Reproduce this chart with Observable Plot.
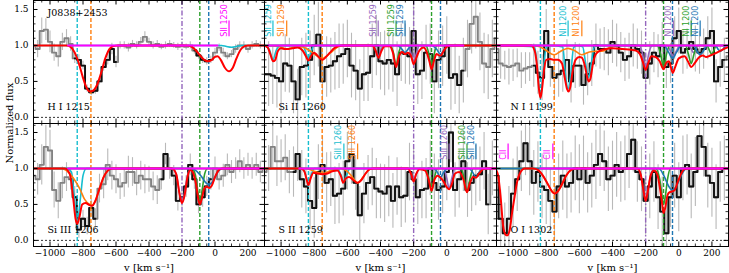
<!DOCTYPE html>
<html><head><meta charset="utf-8">
<script src="https://cdn.jsdelivr.net/npm/d3@7"></script>
<script src="https://cdn.jsdelivr.net/npm/@observablehq/plot@0.6"></script>
<style>
body{margin:0;background:#fff}
#fig{position:relative;width:729px;height:273px;overflow:hidden;font-family:"DejaVu Serif";background:#fff}
#fig svg{position:absolute}
#ylab{position:absolute;left:9px;top:123px;transform:translate(-50%,-50%) rotate(-90deg);font-size:10px;white-space:nowrap}
</style>
</head><body><div id="fig"><div id="ylab">Normalized flux</div></div>
<script>
// velocity grid (bin centres, km/s)
const V = [-1100,-1075,-1050,-1025,-1000,-975,-950,-925,-900,-875,-850,-825,-800,-775,-750,-725,-700,-675,-650,-625,-600,-575,-550,-525,-500,-475,-450,-425,-400,-375,-350,-325,-300,-275,-250,-225,-200,-175,-150,-125,-100,-75,-50,-25,0,25,50,75,100,125,150,175,200,225,250,275,300];

// H I 1215
const F1 = [1.0,0.95,1.2,1.22,1.05,0.9,0.85,1.05,1.1,1.02, 0.82,0.8,0.72,0.4,0.35,0.37,0.5,0.7,0.8,0.95, 0.77,1.0,1.0,0.97,1.02,1.0,1.05,1.12,1.05,1.0, 1.02,0.98,1.0,1.02,1.0,0.98,1.0,0.98,1.0,0.93, 0.86,0.8,0.78,0.8,0.9,0.97,0.9,0.85,0.88,0.95, 1.0,1.0,0.95,1.0,1.02,1.0,1.0];
const E1 = [0.15,0.12,0.18,0.15,0.15,0.12,0.15,0.12,0.12,0.1, 0.07,0.07,0.06,0.05,0.05,0.05,0.05,0.06,0.07,0.08, 0.08,0.05,0.05,0.06,0.05,0.05,0.06,0.07,0.05,0.05, 0.05,0.04,0.05,0.05,0.04,0.05,0.05,0.04,0.05,0.05, 0.05,0.05,0.05,0.05,0.06,0.05,0.06,0.05,0.05,0.06, 0.05,0.05,0.06,0.05,0.05,0.05,0.05];
// Si II 1260
const F2 = [0.6,0.6,0.58,0.55,0.5,0.75,0.72,0.5,0.25,0.7, 0.72,0.8,1.0,1.15,0.5,0.7,0.72,0.78,0.85,0.88, 0.95,0.72,0.65,0.4,0.6,0.62,0.85,1.0,0.78,0.75, 0.8,0.75,0.6,0.9,0.88,0.85,1.2,0.6,0.65,0.9, 0.88,0.5,0.8,0.85,1.0,0.55,0.6,0.45,0.65,0.95, 1.3,1.4,1.05,0.75,0.7,0.95,1.1];
const E2 = [0.4,0.45,0.4,0.42,0.45,0.4,0.38,0.45,0.42,0.4, 0.45,0.4,0.42,0.45,0.4,0.42,0.38,0.4,0.45,0.42, 0.4,0.45,0.42,0.4,0.38,0.4,0.45,0.42,0.4,0.45, 0.42,0.4,0.45,0.4,0.42,0.4,0.45,0.42,0.4,0.38, 0.42,0.45,0.4,0.42,0.4,0.45,0.42,0.4,0.45,0.4, 0.42,0.45,0.4,0.42,0.45,0.4,0.42];
// N I 1199
const F3 = [0.95,0.75,0.72,0.7,0.72,0.75,0.65,0.68,0.7,0.72, 0.62,0.55,1.2,0.7,0.55,0.6,0.65,0.8,0.5,0.72, 0.72,0.45,0.6,0.75,1.0,0.95,0.95,0.9,1.05,1.0, 0.9,0.8,0.85,1.0,0.95,0.9,0.55,0.75,0.9,0.85, 1.0,0.7,0.75,1.1,1.2,0.9,0.95,1.05,0.95,0.9, 0.95,1.1,1.2,0.5,0.7,0.8,0.85];
const E3 = [0.2,0.22,0.2,0.25,0.22,0.2,0.25,0.22,0.2,0.3, 0.3,0.32,0.3,0.28,0.3,0.32,0.3,0.28,0.3,0.32, 0.3,0.28,0.3,0.32,0.3,0.28,0.3,0.32,0.3,0.3, 0.28,0.3,0.32,0.3,0.28,0.3,0.32,0.3,0.28,0.3, 0.32,0.3,0.28,0.3,0.32,0.3,0.28,0.3,0.32,0.3, 0.28,0.3,0.32,0.3,0.28,0.3,0.3];
// Si III 1206
const F4 = [0.9,0.85,1.05,1.3,1.25,0.7,0.55,0.8,0.88,0.85, 0.6,0.15,0.3,0.2,0.45,0.3,0.72,0.78,1.05,0.9, 0.85,0.75,0.8,0.95,0.95,0.8,0.9,0.85,0.85,0.75, 0.7,0.85,1.2,1.0,0.9,0.55,0.6,0.75,1.05,0.85, 0.5,0.6,0.75,0.85,1.0,0.85,0.9,1.05,0.95,1.0, 1.1,1.0,1.05,1.0,1.05,0.95,1.0];
const E4 = [0.25,0.22,0.28,0.3,0.28,0.25,0.25,0.22,0.2,0.15, 0.15,0.12,0.12,0.12,0.12,0.14,0.2,0.2,0.22,0.2, 0.2,0.18,0.2,0.22,0.2,0.18,0.2,0.2,0.18,0.2, 0.2,0.15,0.15,0.15,0.14,0.14,0.14,0.15,0.15,0.14, 0.13,0.14,0.14,0.15,0.16,0.15,0.16,0.15,0.16,0.15, 0.16,0.15,0.16,0.15,0.16,0.15,0.15];
// S II 1259
const F5 = [0.95,1.0,1.3,1.1,1.1,1.15,0.95,0.95,1.2,0.85, 0.75,0.55,0.45,0.95,1.05,0.8,0.85,0.62,0.65,0.72, 1.1,1.2,0.8,0.35,0.65,0.8,0.88,0.72,0.68,0.65, 0.75,0.55,0.75,0.6,0.62,0.95,0.85,0.6,0.7,0.72, 1.0,0.8,0.7,0.75,0.95,1.5,0.7,0.85,1.1,0.7, 0.8,0.9,0.92,1.1,0.5,1.0,1.0];
const E5 = [0.3,0.32,0.3,0.35,0.3,0.32,0.3,0.35,0.38,0.4, 0.38,0.4,0.42,0.38,0.4,0.42,0.38,0.4,0.42,0.38, 0.4,0.42,0.38,0.4,0.42,0.38,0.4,0.42,0.38,0.4, 0.42,0.38,0.4,0.42,0.38,0.4,0.42,0.38,0.4,0.42, 0.38,0.4,0.42,0.38,0.4,0.42,0.38,0.4,0.42,0.38, 0.4,0.42,0.38,0.4,0.42,0.38,0.4];
// O I 1302
const F6 = [0.9,0.3,0.1,0.3,0.65,0.85,1.1,1.35,1.1,0.8, 0.95,0.75,0.7,0.55,0.4,0.75,0.9,0.75,0.8,1.0, 0.85,1.0,0.8,0.9,1.05,1.2,1.1,0.85,0.9,1.05, 0.95,1.0,1.2,1.4,0.95,0.85,0.55,0.75,0.95,0.6, 0.4,0.1,0.6,0.9,0.6,1.0,1.05,0.75,0.95,1.45, 1.3,0.9,0.8,0.6,0.95,1.0,1.0];
const E6 = [0.45,0.4,0.42,0.45,0.48,0.45,0.42,0.45,0.48,0.45, 0.42,0.45,0.48,0.45,0.42,0.45,0.48,0.45,0.42,0.45, 0.48,0.45,0.42,0.45,0.48,0.45,0.42,0.45,0.48,0.45, 0.42,0.45,0.48,0.45,0.42,0.45,0.48,0.45,0.42,0.45, 0.48,0.45,0.42,0.45,0.48,0.45,0.42,0.45,0.48,0.45, 0.42,0.45,0.48,0.45,0.42,0.45,0.45];

// fitted (black) velocity windows
const B1 = [[-850,-600],[-125,-25]];
const B2 = [[-1100,100]];
const B3 = [[-875,275]];
const B4 = [[-875,-725],[-325,-25]];
const B5 = [[-925,250]];
const B6 = [[-1100,300]];

// component velocities and colours
const compV = [-835,-752,-200,-92,-38];
const compC = ["#17becf","#ff7f0e","#9467bd","#2ca02c","#1f77b4"];
const compDash = ["4,2","4,2","5,2,1.5,2","4,2","4,2"];

// model curves [v, flux]
const R1 = [[-1100,1],[-900,1],[-875,0.98],[-850,0.9],[-825,0.75],[-800,0.55],[-780,0.42],[-760,0.36],[-740,0.37],[-715,0.45],[-690,0.62],[-665,0.82],[-640,0.95],[-615,0.99],[-590,1],[-170,1],[-140,0.98],[-115,0.93],[-90,0.86],[-65,0.8],[-40,0.78],[-20,0.8],[0,0.84],[15,0.85],[35,0.8],[60,0.69],[85,0.64],[108,0.69],[130,0.82],[155,0.94],[180,0.99],[200,1],[300,1]];
const C1c = [[-1100,1],[40,1],[70,0.985],[100,0.975],[130,0.985],[160,1],[300,1]];
const M1 = [[-890,1],[15,1]];

const R2 = [[-1100,1],[-1080,0.97],[-1065,0.88],[-1048,0.78],[-1035,0.8],[-1020,0.92],[-1000,0.96],[-975,0.95],[-955,0.95],[-930,0.96],[-900,0.97],[-870,0.93],[-850,0.85],[-835,0.79],[-820,0.85],[-800,0.9],[-785,0.87],[-765,0.82],[-750,0.8],[-730,0.84],[-705,0.9],[-680,0.96],[-655,0.99],[-630,1],[-450,1],[-430,0.93],[-412,0.83],[-395,0.92],[-375,0.99],[-345,0.99],[-325,0.9],[-306,0.7],[-288,0.85],[-270,0.91],[-252,0.88],[-235,0.9],[-215,0.85],[-200,0.74],[-185,0.82],[-165,0.93],[-140,0.97],[-120,0.9],[-105,0.78],[-92,0.67],[-78,0.78],[-62,0.88],[-45,0.86],[-35,0.86],[-25,0.9],[-5,0.97],[15,1],[300,1]];
const C2c = [[-1100,1],[-1070,0.94],[-1049,0.8],[-1028,0.94],[-1000,1],[-870,1],[-850,0.9],[-835,0.8],[-820,0.9],[-800,1],[300,1]];
const C2o = [[-1100,1],[-1020,0.99],[-966,0.95],[-910,0.99],[-870,0.98],[-810,0.9],[-752,0.82],[-700,0.9],[-650,0.99],[-620,1],[300,1]];
const C2p = [[-1100,1],[-450,1],[-430,0.94],[-414,0.84],[-398,0.94],[-380,1],[-235,1],[-215,0.88],[-200,0.75],[-185,0.88],[-165,1],[300,1]];
const C2g = [[-1100,1],[-340,1],[-322,0.9],[-306,0.72],[-290,0.9],[-272,1],[-125,1],[-108,0.88],[-92,0.68],[-76,0.88],[-60,1],[300,1]];
const C2b = [[-1100,1],[-300,1],[-275,0.96],[-252,0.9],[-230,0.96],[-205,1],[-90,1],[-62,0.95],[-38,0.88],[-14,0.95],[12,1],[300,1]];
const M2 = [[-1080,1],[100,1]];

const R3 = [[-1100,1],[-890,1],[-870,0.93],[-855,0.7],[-845,0.42],[-835,0.27],[-825,0.4],[-812,0.68],[-800,0.8],[-775,0.81],[-752,0.8],[-730,0.8],[-705,0.75],[-688,0.55],[-675,0.4],[-665,0.36],[-655,0.42],[-640,0.65],[-623,0.8],[-600,0.84],[-585,0.83],[-565,0.7],[-552,0.55],[-543,0.5],[-532,0.55],[-518,0.75],[-500,0.88],[-473,0.93],[-440,0.95],[-400,0.96],[-340,0.95],[-260,0.93],[-235,0.88],[-218,0.78],[-200,0.66],[-185,0.75],[-165,0.85],[-140,0.84],[-115,0.78],[-92,0.67],[-75,0.76],[-60,0.78],[-48,0.7],[-36,0.62],[-22,0.7],[0,0.82],[35,0.85],[55,0.78],[75,0.7],[95,0.75],[120,0.83],[145,0.86],[165,0.84],[190,0.86],[230,0.9],[270,0.95],[300,0.98]];
const C3c = [[-1100,1],[-870,0.98],[-850,0.6],[-835,0.28],[-820,0.6],[-800,0.97],[-780,1],[-700,0.98],[-685,0.62],[-668,0.4],[-651,0.62],[-635,0.97],[-615,1],[-580,0.98],[-562,0.75],[-545,0.55],[-528,0.75],[-510,0.98],[-490,1],[300,1]];
const C3o = [[-1100,1],[-850,0.99],[-800,0.93],[-752,0.87],[-705,0.93],[-668,0.96],[-630,0.93],[-585,0.87],[-540,0.91],[-500,0.92],[-462,0.92],[-420,0.97],[-380,1],[300,1]];
const C3p = [[-1100,1],[-240,1],[-220,0.9],[-200,0.68],[-180,0.9],[-160,1],[-70,1],[-50,0.92],[-33,0.85],[-15,0.92],[5,1],[60,1],[75,0.95],[90,0.9],[105,0.95],[120,1],[300,1]];
const C3g = [[-1100,1],[-130,1],[-110,0.88],[-92,0.7],[-74,0.88],[-55,1],[40,1],[58,0.88],[75,0.75],[92,0.88],[110,1],[170,1],[185,0.93],[198,0.88],[212,0.93],[225,1],[300,1]];
const C3b = [[-1100,1],[-90,1],[-60,0.9],[-38,0.82],[-15,0.9],[15,1],[90,1],[110,0.92],[129,0.87],[148,0.92],[170,1],[220,1],[240,0.94],[252,0.92],[265,0.94],[285,1],[300,1]];
const M3 = [[-1100,1],[300,1]];

const R4 = [[-1100,1],[-910,1],[-880,0.92],[-860,0.6],[-845,0.3],[-835,0.23],[-822,0.32],[-805,0.5],[-785,0.52],[-760,0.49],[-745,0.48],[-725,0.55],[-700,0.72],[-675,0.88],[-650,0.97],[-625,1],[-260,1],[-235,0.92],[-215,0.65],[-200,0.52],[-185,0.62],[-165,0.9],[-150,0.98],[-135,0.95],[-115,0.78],[-100,0.56],[-92,0.5],[-80,0.58],[-65,0.72],[-50,0.75],[-35,0.73],[-20,0.76],[0,0.88],[20,0.97],[40,1],[300,1]];
const C4c = [[-1100,1],[-900,1],[-870,0.95],[-855,0.65],[-835,0.25],[-815,0.6],[-800,0.9],[-780,1],[300,1]];
const C4o = [[-1100,1],[-930,1],[-900,0.97],[-860,0.87],[-820,0.72],[-790,0.57],[-760,0.5],[-745,0.49],[-725,0.55],[-700,0.72],[-675,0.88],[-650,0.97],[-625,1],[300,1]];
const C4p = [[-1100,1],[-260,1],[-235,0.92],[-215,0.65],[-200,0.52],[-185,0.65],[-165,0.92],[-140,1],[300,1]];
const C4g = [[-1100,1],[-140,1],[-120,0.92],[-105,0.7],[-92,0.52],[-78,0.7],[-62,0.93],[-45,1],[300,1]];
const C4b = [[-1100,1],[-140,1],[-110,0.96],[-80,0.88],[-55,0.8],[-38,0.78],[-20,0.8],[0,0.88],[20,0.96],[45,1],[300,1]];
const M4 = [[-890,1],[300,1]];

const R5 = [[-1100,1],[-880,1],[-860,0.96],[-845,0.84],[-835,0.77],[-822,0.86],[-805,0.94],[-780,0.93],[-752,0.92],[-720,0.93],[-690,0.96],[-660,0.97],[-640,0.9],[-625,0.8],[-610,0.86],[-590,0.88],[-565,0.84],[-540,0.8],[-515,0.84],[-490,0.93],[-465,0.99],[-440,1],[-235,1],[-215,0.92],[-200,0.82],[-185,0.92],[-165,0.99],[-130,0.97],[-110,0.85],[-92,0.69],[-75,0.84],[-55,0.9],[-38,0.87],[-20,0.82],[0,0.74],[14,0.71],[30,0.78],[50,0.93],[75,0.95],[100,0.85],[122,0.67],[140,0.8],[160,0.88],[176,0.87],[195,0.93],[220,0.99],[240,1],[300,1]];
const C5c = [[-1100,1],[-870,1],[-850,0.9],[-835,0.78],[-820,0.9],[-800,1],[-660,1],[-640,0.92],[-621,0.82],[-602,0.92],[-585,1],[300,1]];
const C5o = [[-1100,1],[-850,1],[-800,0.96],[-752,0.93],[-700,0.97],[-640,1],[-600,0.96],[-570,0.88],[-538,0.8],[-505,0.88],[-475,0.97],[-450,1],[300,1]];
const C5p = [[-1100,1],[-235,1],[-215,0.92],[-200,0.82],[-185,0.92],[-165,1],[-20,1],[0,0.86],[14,0.72],[30,0.86],[50,1],[300,1]];
const C5g = [[-1100,1],[-130,1],[-110,0.88],[-92,0.69],[-74,0.88],[-55,1],[85,1],[105,0.86],[122,0.67],[140,0.86],[160,1],[300,1]];
const C5b = [[-1100,1],[-80,1],[-58,0.95],[-38,0.88],[-18,0.95],[5,1],[135,1],[155,0.95],[176,0.88],[196,0.95],[218,1],[300,1]];
const M5 = [[-890,1],[300,1]];

const R6 = [[-1100,0.97],[-1090,0.9],[-1075,0.6],[-1060,0.2],[-1045,0.08],[-1035,0.07],[-1020,0.15],[-1005,0.4],[-990,0.62],[-975,0.82],[-955,0.95],[-930,1],[-880,1],[-850,0.98],[-820,0.9],[-790,0.78],[-765,0.68],[-750,0.65],[-730,0.68],[-705,0.78],[-680,0.9],[-650,0.98],[-620,1],[-250,1],[-230,0.92],[-215,0.72],[-200,0.55],[-187,0.68],[-170,0.9],[-150,0.97],[-130,0.92],[-112,0.7],[-100,0.5],[-92,0.38],[-82,0.45],[-68,0.63],[-55,0.67],[-40,0.68],[-25,0.7],[-5,0.82],[15,0.93],[35,0.99],[60,1],[300,1]];
const C6c = [[-1100,1],[300,1]];
const C6o = [[-1100,1],[-880,1],[-850,0.98],[-820,0.9],[-790,0.78],[-765,0.68],[-750,0.65],[-730,0.68],[-705,0.78],[-680,0.9],[-650,0.98],[-620,1],[300,1]];
const C6p = [[-1100,1],[-250,1],[-230,0.92],[-215,0.72],[-200,0.55],[-187,0.68],[-170,0.9],[-150,1],[300,1]];
const C6g = [[-1100,1],[-140,1],[-115,0.85],[-100,0.6],[-92,0.5],[-82,0.6],[-68,0.85],[-50,1],[300,1]];
const C6b = [[-1100,1],[-120,1],[-90,0.9],[-60,0.75],[-38,0.7],[-15,0.75],[10,0.88],[35,0.98],[55,1],[300,1]];
const M6 = [[-835,1],[300,1]];

// blend-line labels
const L1v = [85], L1t = ["SII 1250"], L1c = ["#ff00ff"];
const L2v = [-1049,-966,-414,-306,-252], L2t = "SII 1259";
const L3v = [-668,-585,-33,75,129], L3t = "NI 1200";
const L5v = [-621,-538,14,122,176], L5t = "SiII 1260";
const L6v = [-1030,-760], L6t = ["CII","CII"], L6c = ["#ff00ff","#ff00ff"];

const panelNames = ["H I 1215","Si II 1260","N I 1199","Si III 1206","S II 1259","O I 1302"];
const qsoName = "J0838+2453";
const xMajor = [-1000,-800,-600,-400,-200,0,200];
const yMajor = [0,0.5,1.0,1.5];
const xLabel = "v [km s\u207B\u00B9]";

// ---- layout ----
const X0 = -1100, X1 = 300, Y0 = -0.085, Y1 = 1.625;
const colX = [33,264,496], colW = [231,232,232];
const rowY = [0,123], H = 123;
const ml = 40, mr = 12, mt = 12, mb = 30;

const fmtX = d => d < 0 ? "\u2212" + Math.abs(d) : String(d);
const xMinor = d3.range(-1100, 301, 50).filter(d => !xMajor.includes(d));
const yMinor = d3.range(0, 17).map(i => i / 10).filter(d => !yMajor.some(m => Math.abs(m - d) < 1e-9));

function lbls(vs, t, colors) {
  return vs.map((v, i) => ({v, t: Array.isArray(t) ? t[i] : t, c: colors[i]}));
}

const panels = [
  {name: panelNames[0], F: F1, E: E1, B: B1, R: R1, comps: [[C1c, compC[0]]], M: M1, L: lbls(L1v, L1t, L1c)},
  {name: panelNames[1], F: F2, E: E2, B: B2, R: R2, comps: [[C2c,compC[0]],[C2o,compC[1]],[C2p,compC[2]],[C2g,compC[3]],[C2b,compC[4]]], M: M2, L: lbls(L2v, L2t, compC)},
  {name: panelNames[2], F: F3, E: E3, B: B3, R: R3, comps: [[C3c,compC[0]],[C3o,compC[1]],[C3p,compC[2]],[C3g,compC[3]],[C3b,compC[4]]], M: M3, L: lbls(L3v, L3t, compC)},
  {name: panelNames[3], F: F4, E: E4, B: B4, R: R4, comps: [[C4c,compC[0]],[C4o,compC[1]],[C4p,compC[2]],[C4g,compC[3]],[C4b,compC[4]]], M: M4, L: []},
  {name: panelNames[4], F: F5, E: E5, B: B5, R: R5, comps: [[C5c,compC[0]],[C5o,compC[1]],[C5p,compC[2]],[C5g,compC[3]],[C5b,compC[4]]], M: M5, L: lbls(L5v, L5t, compC)},
  {name: panelNames[5], F: F6, E: E6, B: B6, R: R6, comps: [[C6c,compC[0]],[C6o,compC[1]],[C6p,compC[2]],[C6g,compC[3]],[C6b,compC[4]]], M: M6, L: lbls(L6v, L6t, L6c)}
];

const fig = document.getElementById("fig");

panels.forEach((p, k) => {
  const col = k % 3, row = Math.floor(k / 3);
  const W = colW[col];
  const pxX = W / (X1 - X0), pxY = H / (Y1 - Y0);
  const data = V.map((v, i) => ({v, f: p.F[i], e: p.E[i], blk: p.B.some(([a, b]) => v >= a && v <= b)}));
  const comp = compV.map((v, i) => ({v, c: compC[i], d: compDash[i]}));
  const tx = (len) => len / pxX, ty = (len) => len / pxY;
  const marks = [
    Plot.ruleX(data, {x: "v", y1: d => d.f - d.e, y2: d => d.f + d.e, stroke: "#b9b9b9", strokeWidth: 1.1, clip: true}),
    Plot.line(data, {x: "v", y: "f", curve: "step", stroke: "#828282", strokeWidth: 1.9, clip: true}),
    Plot.line(data, {x: "v", y: d => d.blk ? d.f : NaN, curve: "step", stroke: "#111", strokeWidth: 1.9, clip: true}),
    Plot.ruleY([0], {stroke: "#000", strokeWidth: 0.8, strokeDasharray: "2,2"}),
    ...comp.map(c => Plot.ruleX([c.v], {stroke: c.c, strokeWidth: 1.4, strokeDasharray: c.d})),
    ...p.comps.map(([arr, c]) => Plot.line(arr, {x: d => d[0], y: d => d[1], curve: "monotone-x", stroke: c, strokeWidth: 1.6, clip: true})),
    Plot.line(p.R, {x: d => d[0], y: d => d[1], curve: "monotone-x", stroke: "#ff0000", strokeWidth: 2, clip: true}),
    Plot.line(p.M, {x: d => d[0], y: d => d[1], stroke: "#ff00ff", strokeWidth: 2, clip: true}),
    // blend labels
    Plot.ruleX(p.L, {x: "v", y1: 1.12, y2: 1.34, stroke: "c", strokeWidth: 1.2}),
    Plot.text(p.L, {x: "v", y: 1.12, text: "t", fill: "c", rotate: -90, textAnchor: "start", dx: -5, fontSize: 8, fontFamily: "DejaVu Sans"}),
    // panel label
    Plot.text([p.name], {frameAnchor: "bottom-left", text: d => d, dx: 14, dy: -17, textAnchor: "start", lineAnchor: "middle", fontSize: 9.5, fill: "#000"}),
    // ticks (inward, all sides)
    Plot.ruleX(xMajor, {x: d => d, y1: Y0, y2: Y0 + ty(4.5), stroke: "#000", strokeWidth: 1}),
    Plot.ruleX(xMajor, {x: d => d, y1: Y1 - ty(4.5), y2: Y1, stroke: "#000", strokeWidth: 1}),
    Plot.ruleX(xMinor, {x: d => d, y1: Y0, y2: Y0 + ty(2.5), stroke: "#000", strokeWidth: 0.8}),
    Plot.ruleX(xMinor, {x: d => d, y1: Y1 - ty(2.5), y2: Y1, stroke: "#000", strokeWidth: 0.8}),
    Plot.ruleY(yMajor, {y: d => d, x1: X0, x2: X0 + tx(4.5), stroke: "#000", strokeWidth: 1}),
    Plot.ruleY(yMajor, {y: d => d, x1: X1 - tx(4.5), x2: X1, stroke: "#000", strokeWidth: 1}),
    Plot.ruleY(yMinor, {y: d => d, x1: X0, x2: X0 + tx(2.5), stroke: "#000", strokeWidth: 0.8}),
    Plot.ruleY(yMinor, {y: d => d, x1: X1 - tx(2.5), x2: X1, stroke: "#000", strokeWidth: 0.8}),
    Plot.frame({stroke: "#000", strokeWidth: 1})
  ];
  if (k === 0) marks.push(Plot.text([qsoName], {frameAnchor: "top-left", text: d => d, dx: 14, dy: 12.5, textAnchor: "start", lineAnchor: "middle", fontSize: 9.5, fill: "#000"}));
  if (row === 1) {
    marks.push(Plot.axisX({ticks: xMajor, tickSize: 0, tickPadding: 3, tickFormat: fmtX, label: null, fontSize: 9}));
    marks.push(Plot.text([xLabel], {frameAnchor: "bottom", text: d => d, dy: 21, lineAnchor: "middle", fontSize: 10, fill: "#000"}));
  }
  if (col === 0) {
    marks.push(Plot.axisY({ticks: yMajor, tickSize: 0, tickPadding: 5, tickFormat: d3.format(".1f"), label: null, fontSize: 9}));
  }
  const svg = Plot.plot({
    width: W + ml + mr, height: H + mt + mb,
    marginLeft: ml, marginRight: mr, marginTop: mt, marginBottom: mb,
    x: {domain: [X0, X1], axis: row === 1 ? undefined : null},
    y: {domain: [Y0, Y1], axis: col === 0 ? undefined : null},
    color: {type: "identity"},
    style: {background: "transparent", overflow: "visible", fontFamily: "DejaVu Serif", fontSize: "9px", color: "#000"},
    marks
  });
  svg.style.left = (colX[col] - ml) + "px";
  svg.style.top = (rowY[row] - mt) + "px";
  svg.style.maxWidth = "none";
  fig.appendChild(svg);
});
</script>
</body></html>
